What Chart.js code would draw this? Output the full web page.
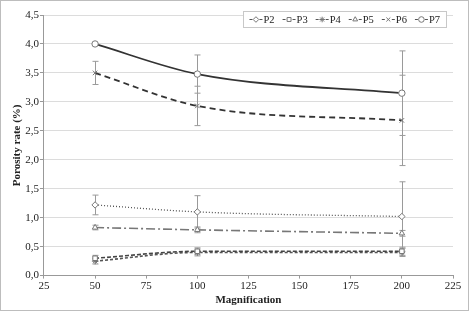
<!DOCTYPE html>
<html>
<head>
<meta charset="utf-8">
<script src="https://cdn.jsdelivr.net/npm/chart.js@4/dist/chart.umd.min.js"></script>
<style>
  body { margin: 0; background: #fff; }
</style>
</head>
<body>
<canvas id="chart" width="469" height="311"></canvas>
<script>
// values
const magnifications = [50, 100, 200];
const xTicks = [25, 50, 75, 100, 125, 150, 175, 200, 225];
const p2 = [1.22, 1.10, 1.02];
const p3 = [0.30, 0.42, 0.42];
const p4 = [0.25, 0.40, 0.40];
const p5 = [0.83, 0.79, 0.73];
const p6 = [3.50, 2.93, 2.68];
const p7 = [4.00, 3.48, 3.15];
const p2Err = [0.17, 0.28, 0.60];
const p3Err = [0.05, 0.06, 0.07];
const p4Err = [0.05, 0.06, 0.07];
const p5Err = [0.04, 0.05, 0.05];
const p6Err = [0.20, 0.34, 0.78];
const p7Err = [0.00, 0.33, 0.73];

Chart.defaults.font.family = "'Liberation Serif', 'Times New Roman', serif";
Chart.defaults.font.size = 11;
Chart.defaults.color = "#222";

function pts(vals) {
  return magnifications.map((m, i) => ({ x: m, y: vals[i] }));
}

function series(label, vals, errs, color, dash, marker, width) {
  return {
    label: label,
    data: pts(vals),
    errors: errs,
    borderColor: color,
    borderWidth: width,
    borderDash: dash,
    pointStyle: marker,
    pointRadius: 3.2,
    pointBackgroundColor: "#fff",
    pointBorderColor: "#777",
    pointBorderWidth: 1,
    cubicInterpolationMode: "monotone",
    fill: false
  };
}

const datasets = [
  series("P2", p2, p2Err, "#555", [1, 2], "rectRot", 1.3),
  series("P3", p3, p3Err, "#444", [4, 2], "rect", 1.6),
  series("P4", p4, p4Err, "#555", [3, 2], "star", 1.6),
  series("P5", p5, p5Err, "#777", [9, 3, 2, 3], "triangle", 1.6),
  series("P6", p6, p6Err, "#333", [6, 4], "crossRot", 1.8),
  series("P7", p7, p7Err, "#333", [], "circle", 1.8)
];

const errorBars = {
  id: "errorBars",
  beforeDatasetsDraw(chart) {
    const ctx = chart.ctx, xs = chart.scales.x, ys = chart.scales.y;
    ctx.save();
    ctx.strokeStyle = "#9a9a9a";
    ctx.lineWidth = 1;
    chart.data.datasets.forEach(ds => {
      ds.data.forEach((p, i) => {
        const e = ds.errors[i];
        if (!e) return;
        const x = Math.round(xs.getPixelForValue(p.x)) + 0.5;
        const y1 = ys.getPixelForValue(p.y + e);
        const y2 = ys.getPixelForValue(p.y - e);
        ctx.beginPath();
        ctx.moveTo(x, y1); ctx.lineTo(x, y2);
        ctx.moveTo(x - 3, y1); ctx.lineTo(x + 3, y1);
        ctx.moveTo(x - 3, y2); ctx.lineTo(x + 3, y2);
        ctx.stroke();
      });
    });
    ctx.restore();
  }
};

const boxLegend = {
  id: "boxLegend",
  afterDraw(chart) {
    const ctx = chart.ctx, area = chart.chartArea;
    ctx.save();
    ctx.font = "10.5px 'Liberation Serif', serif";
    const sample = 13, gap = 1, itemGap = 8, padX = 6;
    const items = chart.data.datasets.map(ds => ({ ds, w: sample + gap + ctx.measureText(ds.label).width }));
    const total = items.reduce((s, it) => s + it.w, 0) + itemGap * (items.length - 1) + padX * 2;
    const right = area.right - 7, top = 11, h = 16;
    const left = right - total;
    ctx.fillStyle = "#fff";
    ctx.fillRect(left, top, total, h);
    ctx.strokeStyle = "#c8c8c8";
    ctx.lineWidth = 1;
    ctx.strokeRect(Math.round(left) + 0.5, top + 0.5, Math.round(total), h);
    let x = left + padX;
    const cy = top + h / 2 + 0.5;
    items.forEach(it => {
      const ds = it.ds;
      ctx.strokeStyle = "#555";
      ctx.lineWidth = 1;
      ctx.beginPath();
      ctx.moveTo(x, cy); ctx.lineTo(x + 3, cy);
      ctx.moveTo(x + sample - 3, cy); ctx.lineTo(x + sample, cy);
      ctx.stroke();
      ctx.fillStyle = "#fff";
      ctx.strokeStyle = "#777";
      Chart.helpers.drawPoint(ctx, { pointStyle: ds.pointStyle, radius: 2.8, borderWidth: 1 }, x + sample / 2, cy);
      ctx.fillStyle = "#222";
      ctx.textBaseline = "middle";
      ctx.fillText(ds.label, x + sample + gap, cy + 0.5);
      x += it.w + itemGap;
    });
    ctx.restore();
  }
};

const frame = {
  id: "frame",
  afterDraw(chart) {
    const ctx = chart.ctx;
    ctx.save();
    ctx.strokeStyle = "#bdbdbd";
    ctx.lineWidth = 1;
    ctx.strokeRect(0.5, 0.5, chart.width - 1, chart.height - 1);
    ctx.restore();
  }
};

new Chart(document.getElementById("chart"), {
  type: "line",
  data: { datasets: datasets },
  options: {
    responsive: false,
    animation: false,
    layout: { padding: { top: 15, right: 16, left: 11, bottom: 4 } },
    plugins: {
      legend: { display: false },
      tooltip: { enabled: false }
    },
    scales: {
      x: {
        type: "linear",
        min: 25, max: 225,
        afterBuildTicks: axis => { axis.ticks = xTicks.map(v => ({ value: v })); },
        grid: { display: true, drawOnChartArea: false, tickLength: 3, tickColor: "#999" },
        border: { color: "#999" },
        ticks: { color: "#222", font: { size: 11 }, padding: 1 },
        title: { display: true, text: "Magnification", font: { size: 11, weight: "bold" }, padding: { top: 0, bottom: 0 } }
      },
      y: {
        min: 0, max: 4.5,
        ticks: {
          stepSize: 0.5,
          color: "#222",
          font: { size: 11 },
          padding: 1,
          callback: v => v.toFixed(1).replace(".", ",")
        },
        grid: { color: "#dcdcdc", tickLength: 4, tickColor: "#999" },
        border: { color: "#999" },
        title: { display: true, text: "Porosity rate (%)", font: { size: 11, weight: "bold" }, padding: { top: 0, bottom: 0 } }
      }
    }
  },
  plugins: [errorBars, boxLegend, frame]
});
</script>
</body>
</html>
